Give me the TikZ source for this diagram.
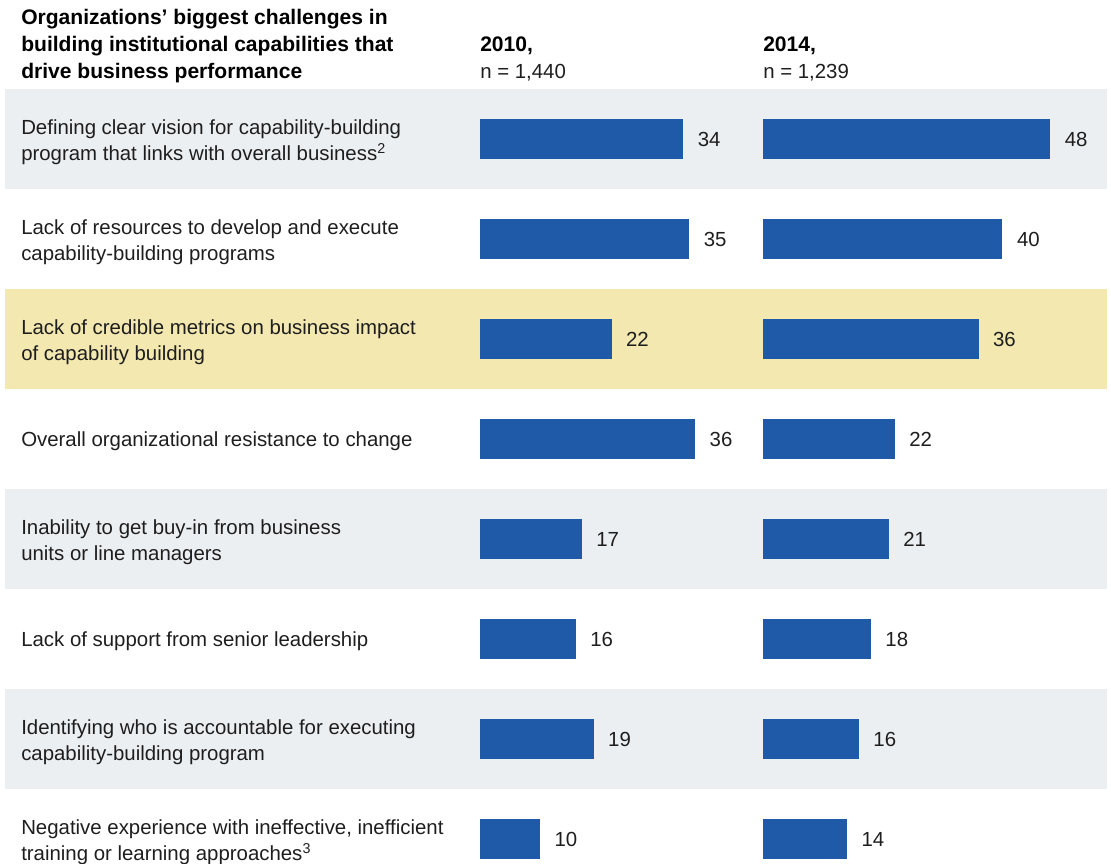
\documentclass[tikz,border=0pt]{standalone}
\usepackage{fontspec}
\setmainfont{Liberation Sans}
\definecolor{barblue}{RGB}{30,90,168}
\definecolor{bandgray}{RGB}{236,239,242}
\definecolor{bandyellow}{RGB}{242,232,176}
\definecolor{txt}{RGB}{30,30,30}
\begin{document}
\begin{tikzpicture}[x=0.75pt,y=-0.75pt,
  band/.style={draw=none, inner sep=0pt, minimum width=826.5pt, minimum height=75pt, anchor=north west},
  bar/.style={fill=barblue, draw=none, inner sep=0pt, minimum height=30pt, anchor=west},
  val/.style={anchor=west, inner sep=0pt, font=\fontsize{15.3}{19.5}\selectfont, text=txt},
  lbl/.style={anchor=west, align=left, inner sep=0pt, font=\fontsize{15.3}{19.5}\selectfont, text=txt},
  hdr/.style={anchor=base west, align=left, inner sep=0pt, font=\fontsize{15.8}{19.9}\selectfont\bfseries, text=black},
  sub/.style={anchor=base west, inner sep=0pt, font=\fontsize{15.3}{19.5}\selectfont, text=txt}]
\useasboundingbox (0,0) rectangle (1111,864);
% bands
\node[band, fill=bandgray] (band1) at (5,89) {};
\node[band, fill=bandyellow] (band3) at (5,289) {};
\node[band, fill=bandgray] (band5) at (5,489) {};
\node[band, fill=bandgray] (band7) at (5,689) {};
% header
\node[hdr] (title) at (21,78) {Organizations’ biggest challenges in\\building institutional capabilities that\\drive business performance};
\node[hdr] (y2010) at (480,51) {2010,};
\node[sub] (n2010) at (480,78) {n = 1,440};
\node[hdr] (y2014) at (763,51) {2014,};
\node[sub] (n2014) at (763,78) {n = 1,239};
% row labels
\node[lbl] (l1) at (21,142) {Defining clear vision for capability-building\\program that links with overall business\textsuperscript{2}};
\node[lbl] (l2) at (21,242) {Lack of resources to develop and execute\\capability-building programs};
\node[lbl] (l3) at (21,342) {Lack of credible metrics on business impact\\of capability building};
\node[lbl] (l4) at (21,441) {Overall organizational resistance to change};
\node[lbl] (l5) at (21,542) {Inability to get buy-in from business\\units or line managers};
\node[lbl] (l6) at (21,641) {Lack of support from senior leadership};
\node[lbl] (l7) at (21,742) {Identifying who is accountable for executing\\capability-building program};
\node[lbl] (l8) at (21,842) {Negative experience with ineffective, inefficient\\training or learning approaches\textsuperscript{3}};
% bars
\foreach \i/\y/\a/\b in {1/139/34/48, 2/239/35/40, 3/339/22/36, 4/439/36/22, 5/539/17/21, 6/639/16/18, 7/739/19/16, 8/839/10/14}{
  \pgfmathsetmacro\wa{\a*5.97*0.75}
  \pgfmathsetmacro\wb{\b*5.98*0.75}
  \node[bar, minimum width=\wa pt] (a\i) at (480,\y) {};
  \node[val] (na\i) at ([xshift=10.5pt]a\i.east) {\a};
  \node[bar, minimum width=\wb pt] (b\i) at (763,\y) {};
  \node[val] (nb\i) at ([xshift=10.5pt]b\i.east) {\b};
}
\end{tikzpicture}
\end{document}
